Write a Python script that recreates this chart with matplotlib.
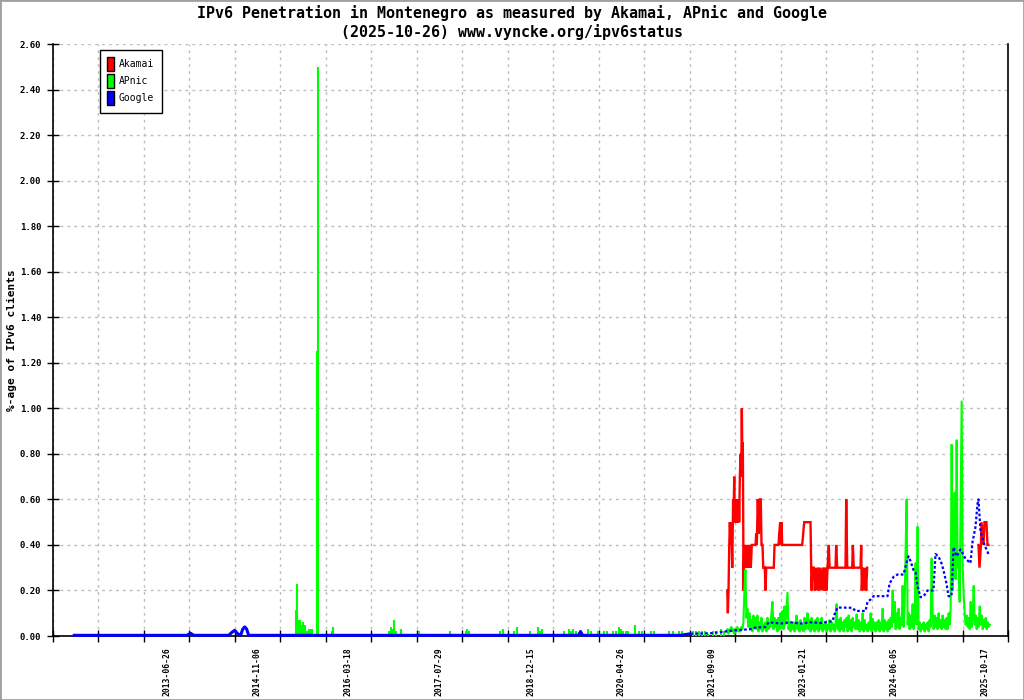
import matplotlib
matplotlib.use('Agg')
import matplotlib.pyplot as plt
from matplotlib.patches import Patch, Rectangle
import numpy as np
import pandas as pd

# ---------------- data ----------------
title_line1 = "IPv6 Penetration in Montenegro as measured by Akamai, APnic and Google"
title_line2 = "(2025-10-26) www.vyncke.org/ipv6status"
y_label = "%-age of IPv6 clients"
series_names = ["Akamai", "APnic", "Google"]
series_colors = ["#ff0000", "#00ff00", "#0000ff"]

date_labels = ['2013-06-26', '2014-11-06', '2016-03-18', '2017-07-29', '2018-12-15',
               '2020-04-26', '2021-09-09', '2023-01-21', '2024-06-05', '2025-10-17']

# Akamai (x in decimal years)
akamai_x = [2021.912, 2021.921, 2021.931, 2021.942, 2021.951, 2021.961, 2021.972, 2021.987, 2021.996, 2022.000,
            2022.005, 2022.011, 2022.017, 2022.022, 2022.026, 2022.031, 2022.036, 2022.041, 2022.046, 2022.051,
            2022.056, 2022.061, 2022.066, 2022.071, 2022.076, 2022.081, 2022.086, 2022.091, 2022.096, 2022.101,
            2022.112, 2022.122, 2022.131,
            2022.142, 2022.146, 2022.157, 2022.167, 2022.176, 2022.191, 2022.206, 2022.221, 2022.236, 2022.251,
            2022.266, 2022.281, 2022.311, 2022.337, 2022.347, 2022.356, 2022.371, 2022.386, 2022.401, 2022.416,
            2022.427, 2022.442, 2022.453, 2022.477, 2022.487, 2022.498, 2022.612, 2022.623, 2022.683, 2022.693,
            2022.708, 2022.717, 2022.728, 2022.738, 2023.039, 2023.054, 2023.069, 2023.164, 2023.179, 2023.194,
            2023.214, 2023.229, 2023.244, 2023.265, 2023.280, 2023.295, 2023.314, 2023.340, 2023.355, 2023.375,
            2023.390, 2023.405, 2023.420, 2023.439, 2023.450, 2023.540, 2023.550, 2023.565, 2023.690, 2023.701,
            2023.716, 2023.791, 2023.800, 2023.815, 2023.916, 2023.926, 2023.935, 2023.950, 2023.965, 2023.986,
            2024.001, 2024.016, 2024.500, 2025.690, 2025.705, 2025.727, 2025.735, 2025.765, 2025.780, 2025.810,
            2025.825, 2025.840]
akamai_y = [0.20, 0.10, 0.20, 0.40, 0.50, 0.40, 0.50, 0.30, 0.50, 0.60,
            0.50, 0.60, 0.70, 0.50, 0.60, 0.50, 0.60, 0.50, 0.60, 0.50,
            0.60, 0.50, 0.60, 0.50, 0.60, 0.50, 0.60, 0.50, 0.60, 0.70,
            0.80, 0.70, 1.00,
            0.70, 0.85, 0.20, 0.40, 0.30, 0.40, 0.30, 0.40, 0.30, 0.40,
            0.30, 0.40, 0.40, 0.40, 0.45, 0.40, 0.60, 0.45, 0.60, 0.60,
            0.40, 0.40, 0.30, 0.30, 0.20, 0.30, 0.30, 0.40, 0.40, 0.45,
            0.50, 0.40, 0.50, 0.40, 0.40, 0.45, 0.50, 0.50, 0.20, 0.30,
            0.30, 0.20, 0.30, 0.20, 0.30, 0.20, 0.30, 0.20, 0.30, 0.20,
            0.30, 0.20, 0.30, 0.40, 0.30, 0.30, 0.40, 0.30, 0.30, 0.60,
            0.30, 0.30, 0.40, 0.30, 0.30, 0.40, 0.20, 0.30, 0.20, 0.30,
            0.20, 0.30, np.nan, 0.40, 0.30, 0.40, 0.50, 0.40, 0.50, 0.50,
            0.40, 0.40]

# APnic, sparse period (single days with non-zero values)
apnic_spike_x = [2015.429, 2015.441, 2015.451, 2015.466, 2015.482, 2015.497, 2015.519, 2015.534, 2015.549, 2015.564,
                 2015.587, 2015.617, 2015.639, 2015.662, 2015.685, 2015.742, 2015.761, 2015.827, 2015.963, 2015.978,
                 2016.098, 2016.218, 2016.248, 2016.293, 2016.338, 2016.384, 2016.624, 2016.699, 2016.774, 2016.820,
                 2016.850, 2016.880, 2016.902, 2016.925, 2016.955, 2017.000, 2017.030, 2017.060, 2017.105, 2017.150,
                 2017.271, 2017.526, 2017.571, 2017.616, 2017.737, 2017.797, 2017.827, 2017.947, 2017.977, 2018.000,
                 2018.022, 2018.052, 2018.428, 2018.488, 2018.533, 2018.579, 2018.654, 2018.699, 2018.751, 2018.804,
                 2018.939, 2019.030, 2019.060, 2019.090, 2019.120, 2019.150, 2019.451, 2019.496, 2019.526, 2019.556,
                 2019.586, 2019.631, 2019.661, 2019.811, 2019.856, 2019.962, 2020.007, 2020.052, 2020.097, 2020.187,
                 2020.232, 2020.277, 2020.307, 2020.338, 2020.383, 2020.413, 2020.526, 2020.578, 2020.623, 2020.759,
                 2020.804, 2020.909, 2020.984, 2021.029, 2021.059, 2021.089, 2021.179, 2021.225, 2021.255, 2021.390,
                 2021.435, 2021.480, 2021.525, 2021.570, 2021.615, 2021.691, 2021.736, 2021.811, 2021.856]
apnic_spike_y = [0.115, 0.23, 0.07, 0.05, 0.07, 0.05, 0.03, 0.06, 0.04, 0.05,
                 0.02, 0.03, 0.03, 0.03, 0.01, 1.25, 2.50, 0.01, 0.02, 0.04,
                 0.01, 0.01, 0.01, 0.01, 0.01, 0.01, 0.01, 0.01, 0.01, 0.02,
                 0.04, 0.03, 0.07, 0.02, 0.01, 0.03, 0.01, 0.01, 0.01, 0.01,
                 0.02, 0.01, 0.01, 0.01, 0.02, 0.01, 0.01, 0.01, 0.02, 0.03,
                 0.02, 0.01, 0.01, 0.02, 0.03, 0.01, 0.01, 0.02, 0.04, 0.01,
                 0.02, 0.01, 0.04, 0.02, 0.03, 0.01, 0.02, 0.01, 0.03, 0.02,
                 0.03, 0.02, 0.01, 0.03, 0.02, 0.02, 0.01, 0.02, 0.02, 0.02,
                 0.02, 0.04, 0.03, 0.02, 0.02, 0.02, 0.05, 0.02, 0.02, 0.02,
                 0.02, 0.01, 0.01, 0.02, 0.01, 0.02, 0.02, 0.02, 0.01, 0.02,
                 0.02, 0.02, 0.02, 0.02, 0.01, 0.02, 0.02, 0.03, 0.02]

# APnic, dense period: one reading every 5.5 days from 2021-11-25
apnic_dense_start = '2021-11-25'
apnic_dense_step_hours = 132
apnic_dense_y = [0.02, 0.03, 0.01, 0.03, 0.02, 0.04, 0.02, 0.03, 0.01, 0.03,
                 0.02, 0.04, 0.02, 0.03, 0.02, 0.04, 0.03, 0.06, 0.20, 0.29,
                 0.08, 0.12, 0.04, 0.10, 0.03, 0.07, 0.02, 0.09, 0.04, 0.08,
                 0.03, 0.09, 0.02, 0.06, 0.03, 0.08, 0.02, 0.05, 0.03, 0.06,
                 0.02, 0.08, 0.03, 0.06, 0.04, 0.10, 0.15, 0.03, 0.08, 0.04,
                 0.07, 0.02, 0.08, 0.03, 0.10, 0.04, 0.11, 0.03, 0.13, 0.05,
                 0.12, 0.19, 0.03, 0.06, 0.02, 0.05, 0.03, 0.06, 0.02, 0.05,
                 0.09, 0.03, 0.06, 0.02, 0.07, 0.03, 0.05, 0.02, 0.08, 0.03,
                 0.06, 0.10, 0.03, 0.07, 0.02, 0.08, 0.03, 0.06, 0.02, 0.07,
                 0.03, 0.08, 0.02, 0.06, 0.03, 0.08, 0.02, 0.05, 0.03, 0.06,
                 0.02, 0.05, 0.03, 0.07, 0.02, 0.06, 0.03, 0.05, 0.02, 0.06,
                 0.14, 0.03, 0.07, 0.02, 0.08, 0.03, 0.06, 0.02, 0.07, 0.04,
                 0.08, 0.02, 0.09, 0.03, 0.07, 0.02, 0.08, 0.04, 0.06, 0.03,
                 0.095, 0.03, 0.07, 0.02, 0.06, 0.03, 0.10, 0.02, 0.07, 0.03,
                 0.05, 0.02, 0.06, 0.03, 0.10, 0.02, 0.075, 0.03, 0.06, 0.02,
                 0.06, 0.03, 0.07, 0.02, 0.06, 0.03, 0.12, 0.02, 0.07, 0.03,
                 0.06, 0.02, 0.07, 0.03, 0.08, 0.04, 0.20, 0.06, 0.15, 0.03,
                 0.10, 0.04, 0.12, 0.03, 0.08, 0.05, 0.22, 0.04, 0.13, 0.38,
                 0.60, 0.05, 0.10, 0.03, 0.09, 0.04, 0.14, 0.03, 0.08, 0.32,
                 0.05, 0.48, 0.03, 0.06, 0.02, 0.05, 0.03, 0.06, 0.02, 0.05,
                 0.03, 0.06, 0.02, 0.07, 0.04, 0.34, 0.10, 0.03, 0.09, 0.04,
                 0.08, 0.03, 0.10, 0.04, 0.07, 0.03, 0.09, 0.04, 0.07, 0.03,
                 0.08, 0.03, 0.10, 0.05, 0.12, 0.84, 0.20, 0.30, 0.63, 0.25,
                 0.86, 0.30, 0.36, 0.15, 0.60, 1.03, 0.30, 0.18, 0.10, 0.05,
                 0.09, 0.04, 0.08, 0.03, 0.15, 0.04, 0.08, 0.22, 0.05, 0.09,
                 0.03, 0.08, 0.04, 0.13, 0.05, 0.09, 0.03, 0.07, 0.04, 0.08,
                 0.03, 0.06, 0.04, 0.05]

# Google
google_x = [2012.069, 2013.783, 2013.843, 2013.888, 2014.414, 2014.459, 2014.504, 2014.549, 2014.595, 2014.625,
            2014.655, 2014.685, 2014.715, 2019.676, 2019.706, 2019.736, 2021.210, 2021.360, 2021.661, 2021.886,
            2022.036, 2022.262, 2022.337, 2022.487, 2022.533, 2022.713, 2022.863, 2023.014, 2023.164, 2023.314,
            2023.495, 2023.525, 2023.570, 2023.795, 2023.840, 2023.991, 2024.021, 2024.066, 2024.111, 2024.322,
            2024.352, 2024.412, 2024.472, 2024.562, 2024.607, 2024.637, 2024.667, 2024.712, 2024.743, 2024.773,
            2024.818, 2024.878, 2024.923, 2025.013, 2025.043, 2025.088, 2025.133, 2025.163, 2025.209, 2025.239,
            2025.284, 2025.314, 2025.359, 2025.419, 2025.494, 2025.569, 2025.599, 2025.645, 2025.675, 2025.690,
            2025.720, 2025.780, 2025.840]
google_y = [0.003, 0.003, 0.012, 0.003, 0.003, 0.015, 0.025, 0.010, 0.003, 0.030,
            0.040, 0.030, 0.003, 0.003, 0.020, 0.003, 0.003, 0.010, 0.012, 0.020,
            0.025, 0.030, 0.037, 0.040, 0.060, 0.055, 0.060, 0.055, 0.060, 0.057,
            0.065, 0.095, 0.125, 0.124, 0.110, 0.110, 0.150, 0.160, 0.175, 0.175,
            0.230, 0.260, 0.270, 0.270, 0.320, 0.350, 0.330, 0.290, 0.280, 0.220,
            0.170, 0.180, 0.200, 0.200, 0.360, 0.350, 0.320, 0.290, 0.230, 0.175,
            0.175, 0.390, 0.350, 0.380, 0.340, 0.320, 0.410, 0.480, 0.580, 0.600,
            0.460, 0.400, 0.360]
google_dotted_from = 2021.360

y_ticks = [0.0, 0.2, 0.4, 0.6, 0.8, 1.0, 1.2, 1.4, 1.6, 1.8, 2.0, 2.2, 2.4, 2.6]


def dec_year(d):
    t = pd.Timestamp(d)
    start = pd.Timestamp(year=t.year, month=1, day=1)
    ndays = 366 if t.is_leap_year else 365
    return t.year + (t - start).total_seconds() / 86400.0 / ndays


# ---------------- figure ----------------
MONO = 'DejaVu Sans Mono'
fig = plt.figure(figsize=(10.24, 7.0), dpi=100)
ax = fig.add_axes([53 / 1024, 1 - 636 / 700, 955 / 1024, 592 / 700])

label_pos = np.array([dec_year(d) for d in date_labels])
interval = (label_pos[-1] - label_pos[0]) / 18.0
x_left = label_pos[0] - 2.5 * interval
x_right = label_pos[-1] + 0.5 * interval
tick_pos = [x_left + k * interval for k in range(22)]

# Akamai
ax.plot(akamai_x, akamai_y, color=series_colors[0], lw=1.7, zorder=3,
        solid_joinstyle='miter')

# APnic
ax.vlines(apnic_spike_x, 0, apnic_spike_y, color=series_colors[1], lw=1.5, zorder=3)
dense_dates = pd.date_range(apnic_dense_start, periods=len(apnic_dense_y),
                            freq=f'{apnic_dense_step_hours}h')
dense_x = [dec_year(d) for d in dense_dates]
ax.plot(dense_x, apnic_dense_y, color=series_colors[1], lw=1.5, zorder=3)

# Google
gx = np.array(google_x)
gy = np.array(google_y)
solid = gx <= google_dotted_from
dotted = gx >= google_dotted_from
ax.plot(gx[solid], gy[solid], color=series_colors[2], lw=2.2, zorder=4,
        clip_on=False, solid_capstyle='butt')
ax.plot(gx[dotted], gy[dotted], color=series_colors[2], lw=1.6, zorder=4,
        linestyle=(0, (1.2, 1.0)), clip_on=False)

ax.set_xlim(x_left, x_right)
ax.set_ylim(0, 2.6)

ax.set_yticks(y_ticks)
ax.set_yticklabels([f"{v:.2f}" for v in y_ticks], fontsize=6.5, family=MONO,
                   fontweight='bold')
ax.set_xticks(tick_pos)
ax.set_xticklabels([])
ax.set_xticks(label_pos, minor=True)
ax.set_xticklabels(date_labels, minor=True, rotation=90, fontsize=5.8,
                   family=MONO, fontweight='bold')
ax.yaxis.set_minor_locator(matplotlib.ticker.NullLocator())

ax.tick_params(axis='both', which='major', direction='inout', length=9, width=1,
               color='black')
ax.tick_params(axis='y', which='major', pad=4)
ax.tick_params(axis='x', which='minor', length=0, pad=8)

ax.grid(True, which='major', color='#bdbdbd', linestyle=(0, (2, 3)), linewidth=1)
ax.set_axisbelow(True)

for s in ['left', 'bottom', 'right']:
    ax.spines[s].set_color('black')
    ax.spines[s].set_linewidth(1.2)
ax.spines['top'].set_visible(False)

# Legend
handles = [Patch(facecolor=c, edgecolor='black', linewidth=1.0) for c in series_colors]
leg = ax.legend(handles, series_names, loc='upper left',
                bbox_to_anchor=((100 - 53) / 955, (636 - 50) / 592),
                borderaxespad=0, prop={'family': MONO, 'size': 7},
                handlelength=0.65, handleheight=1.85, handletextpad=0.55,
                labelspacing=0.3, borderpad=0.75, fancybox=False, framealpha=1,
                edgecolor='black')
leg.get_frame().set_linewidth(1.0)

# Titles
fig.text(0.5, 1 - 13 / 700, title_line1, ha='center', va='center', fontsize=10.8,
         family=MONO, fontweight='bold')
fig.text(0.5, 1 - 32 / 700, title_line2, ha='center', va='center', fontsize=10.8,
         family=MONO, fontweight='bold')
fig.text(12 / 1024, 1 - 340 / 700, y_label, rotation=90, ha='center', va='center',
         fontsize=8, family=MONO, fontweight='bold')

fig.patches.append(Rectangle((0, 0), 1, 1, transform=fig.transFigure, fill=False,
                             edgecolor='#a0a0a0', linewidth=2))

fig.savefig('out.png', dpi=100)
